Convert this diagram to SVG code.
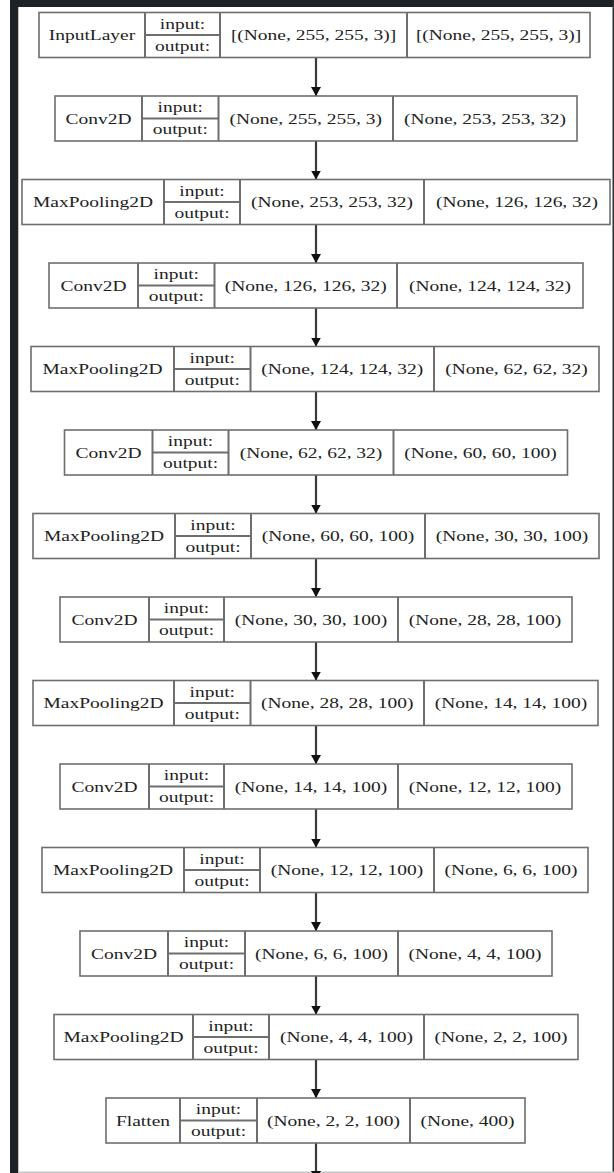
<svg xmlns="http://www.w3.org/2000/svg" width="614" height="1173" viewBox="0 0 614 1173">
<style>
.box{fill:#fff;stroke:#6e6e6e;stroke-width:1.6}
.div{fill:none;stroke:#6e6e6e;stroke-width:2}
text{font-family:"Liberation Serif","Times New Roman",serif;font-size:14px;fill:#222;text-anchor:middle}
.edge{stroke:#3a3a3a;stroke-width:2.2;fill:none;marker-end:url(#ah)}
</style>
<defs>
<marker id="ah" viewBox="0 0 9 10" refX="9" refY="5" markerWidth="9" markerHeight="10" markerUnits="userSpaceOnUse" orient="auto">
<path d="M0,0 L9,5 L0,10 z" fill="#111"/>
</marker>
</defs>
<rect x="0" y="0" width="614" height="1173" fill="#fff"/>
<g id="frame">
<rect x="10" y="0" width="8" height="1173" fill="#1d2325"/>
<rect x="10" y="0" width="604" height="7" fill="#1d2325"/>
<rect x="612.5" y="0" width="1.5" height="1173" fill="#2a3032"/>
<rect x="18" y="1171.5" width="596" height="1.5" fill="#c8c8c8"/>
<rect x="18" y="7" width="1" height="1166" fill="#c0c0c0"/>
</g>
<g id="connectors">
<path class="edge" d="M316,57.5V96"/>
<path class="edge" d="M316,141V179.5"/>
<path class="edge" d="M316,224.5V263"/>
<path class="edge" d="M316,308V346.5"/>
<path class="edge" d="M316,391.5V430"/>
<path class="edge" d="M316,475V513.5"/>
<path class="edge" d="M316,558.5V597"/>
<path class="edge" d="M316,642V680.5"/>
<path class="edge" d="M316,725.5V764"/>
<path class="edge" d="M316,809V847.5"/>
<path class="edge" d="M316,892.5V931"/>
<path class="edge" d="M316,976V1014.5"/>
<path class="edge" d="M316,1059.5V1098"/>
<path class="edge" d="M316,1143V1180"/>
</g>
<g id="n1">
<rect class="box" x="39" y="12.5" width="551" height="45"/>
<path class="div" d="M145,12.5V57.5M220,12.5V57.5M407,12.5V57.5M145,35H220"/>
<text transform="translate(92 40) scale(1.39 1)">InputLayer</text>
<text transform="translate(182.5 28.5) scale(1.39 1)">input:</text>
<text transform="translate(182.5 50.5) scale(1.39 1)">output:</text>
<text transform="translate(313.5 40) scale(1.39 1)">[(None, 255, 255, 3)]</text>
<text transform="translate(498.5 40) scale(1.39 1)">[(None, 255, 255, 3)]</text>
</g>
<g id="n2">
<rect class="box" x="55" y="96" width="522" height="45"/>
<path class="div" d="M142,96V141M218.5,96V141M393,96V141M142,118.5H218.5"/>
<text transform="translate(98.5 123.5) scale(1.39 1)">Conv2D</text>
<text transform="translate(180.25 112) scale(1.39 1)">input:</text>
<text transform="translate(180.25 134) scale(1.39 1)">output:</text>
<text transform="translate(305.75 123.5) scale(1.39 1)">(None, 255, 255, 3)</text>
<text transform="translate(485 123.5) scale(1.39 1)">(None, 253, 253, 32)</text>
</g>
<g id="n3">
<rect class="box" x="22" y="179.5" width="588" height="45"/>
<path class="div" d="M164,179.5V224.5M240,179.5V224.5M424,179.5V224.5M164,202H240"/>
<text transform="translate(93 207) scale(1.39 1)">MaxPooling2D</text>
<text transform="translate(202 195.5) scale(1.39 1)">input:</text>
<text transform="translate(202 217.5) scale(1.39 1)">output:</text>
<text transform="translate(332 207) scale(1.39 1)">(None, 253, 253, 32)</text>
<text transform="translate(517 207) scale(1.39 1)">(None, 126, 126, 32)</text>
</g>
<g id="n4">
<rect class="box" x="49" y="263" width="534" height="45"/>
<path class="div" d="M138,263V308M214.5,263V308M397,263V308M138,285.5H214.5"/>
<text transform="translate(93.5 290.5) scale(1.39 1)">Conv2D</text>
<text transform="translate(176.25 279) scale(1.39 1)">input:</text>
<text transform="translate(176.25 301) scale(1.39 1)">output:</text>
<text transform="translate(305.75 290.5) scale(1.39 1)">(None, 126, 126, 32)</text>
<text transform="translate(490 290.5) scale(1.39 1)">(None, 124, 124, 32)</text>
</g>
<g id="n5">
<rect class="box" x="31" y="346.5" width="568" height="45"/>
<path class="div" d="M174,346.5V391.5M250.5,346.5V391.5M434,346.5V391.5M174,369H250.5"/>
<text transform="translate(102.5 374) scale(1.39 1)">MaxPooling2D</text>
<text transform="translate(212.25 362.5) scale(1.39 1)">input:</text>
<text transform="translate(212.25 384.5) scale(1.39 1)">output:</text>
<text transform="translate(342.25 374) scale(1.39 1)">(None, 124, 124, 32)</text>
<text transform="translate(516.5 374) scale(1.39 1)">(None, 62, 62, 32)</text>
</g>
<g id="n6">
<rect class="box" x="64.5" y="430" width="503" height="45"/>
<path class="div" d="M152.5,430V475M228.5,430V475M393.5,430V475M152.5,452.5H228.5"/>
<text transform="translate(108.5 457.5) scale(1.39 1)">Conv2D</text>
<text transform="translate(190.5 446) scale(1.39 1)">input:</text>
<text transform="translate(190.5 468) scale(1.39 1)">output:</text>
<text transform="translate(311 457.5) scale(1.39 1)">(None, 62, 62, 32)</text>
<text transform="translate(480.5 457.5) scale(1.39 1)">(None, 60, 60, 100)</text>
</g>
<g id="n7">
<rect class="box" x="33" y="513.5" width="566" height="45"/>
<path class="div" d="M175,513.5V558.5M251,513.5V558.5M425,513.5V558.5M175,536H251"/>
<text transform="translate(104 541) scale(1.39 1)">MaxPooling2D</text>
<text transform="translate(213 529.5) scale(1.39 1)">input:</text>
<text transform="translate(213 551.5) scale(1.39 1)">output:</text>
<text transform="translate(338 541) scale(1.39 1)">(None, 60, 60, 100)</text>
<text transform="translate(512 541) scale(1.39 1)">(None, 30, 30, 100)</text>
</g>
<g id="n8">
<rect class="box" x="60" y="597" width="512" height="45"/>
<path class="div" d="M149,597V642M224,597V642M398,597V642M149,619.5H224"/>
<text transform="translate(104.5 624.5) scale(1.39 1)">Conv2D</text>
<text transform="translate(186.5 613) scale(1.39 1)">input:</text>
<text transform="translate(186.5 635) scale(1.39 1)">output:</text>
<text transform="translate(311 624.5) scale(1.39 1)">(None, 30, 30, 100)</text>
<text transform="translate(485 624.5) scale(1.39 1)">(None, 28, 28, 100)</text>
</g>
<g id="n9">
<rect class="box" x="33" y="680.5" width="565" height="45"/>
<path class="div" d="M174,680.5V725.5M250.5,680.5V725.5M424,680.5V725.5M174,703H250.5"/>
<text transform="translate(103.5 708) scale(1.39 1)">MaxPooling2D</text>
<text transform="translate(212.25 696.5) scale(1.39 1)">input:</text>
<text transform="translate(212.25 718.5) scale(1.39 1)">output:</text>
<text transform="translate(337.25 708) scale(1.39 1)">(None, 28, 28, 100)</text>
<text transform="translate(511 708) scale(1.39 1)">(None, 14, 14, 100)</text>
</g>
<g id="n10">
<rect class="box" x="60" y="764" width="512" height="45"/>
<path class="div" d="M149,764V809M224,764V809M398,764V809M149,786.5H224"/>
<text transform="translate(104.5 791.5) scale(1.39 1)">Conv2D</text>
<text transform="translate(186.5 780) scale(1.39 1)">input:</text>
<text transform="translate(186.5 802) scale(1.39 1)">output:</text>
<text transform="translate(311 791.5) scale(1.39 1)">(None, 14, 14, 100)</text>
<text transform="translate(485 791.5) scale(1.39 1)">(None, 12, 12, 100)</text>
</g>
<g id="n11">
<rect class="box" x="42" y="847.5" width="546" height="45"/>
<path class="div" d="M184,847.5V892.5M260,847.5V892.5M434,847.5V892.5M184,870H260"/>
<text transform="translate(113 875) scale(1.39 1)">MaxPooling2D</text>
<text transform="translate(222 863.5) scale(1.39 1)">input:</text>
<text transform="translate(222 885.5) scale(1.39 1)">output:</text>
<text transform="translate(347 875) scale(1.39 1)">(None, 12, 12, 100)</text>
<text transform="translate(511 875) scale(1.39 1)">(None, 6, 6, 100)</text>
</g>
<g id="n12">
<rect class="box" x="80" y="931" width="472" height="45"/>
<path class="div" d="M168,931V976M245,931V976M398,931V976M168,953.5H245"/>
<text transform="translate(124 958.5) scale(1.39 1)">Conv2D</text>
<text transform="translate(206.5 947) scale(1.39 1)">input:</text>
<text transform="translate(206.5 969) scale(1.39 1)">output:</text>
<text transform="translate(321.5 958.5) scale(1.39 1)">(None, 6, 6, 100)</text>
<text transform="translate(475 958.5) scale(1.39 1)">(None, 4, 4, 100)</text>
</g>
<g id="n13">
<rect class="box" x="54" y="1014.5" width="524" height="45"/>
<path class="div" d="M193,1014.5V1059.5M269,1014.5V1059.5M424,1014.5V1059.5M193,1037H269"/>
<text transform="translate(123.5 1042) scale(1.39 1)">MaxPooling2D</text>
<text transform="translate(231 1030.5) scale(1.39 1)">input:</text>
<text transform="translate(231 1052.5) scale(1.39 1)">output:</text>
<text transform="translate(346.5 1042) scale(1.39 1)">(None, 4, 4, 100)</text>
<text transform="translate(501 1042) scale(1.39 1)">(None, 2, 2, 100)</text>
</g>
<g id="n14">
<rect class="box" x="106" y="1098" width="419" height="45"/>
<path class="div" d="M180,1098V1143M257,1098V1143M410,1098V1143M180,1120.5H257"/>
<text transform="translate(143 1125.5) scale(1.39 1)">Flatten</text>
<text transform="translate(218.5 1114) scale(1.39 1)">input:</text>
<text transform="translate(218.5 1136) scale(1.39 1)">output:</text>
<text transform="translate(333.5 1125.5) scale(1.39 1)">(None, 2, 2, 100)</text>
<text transform="translate(467.5 1125.5) scale(1.39 1)">(None, 400)</text>
</g>
</svg>
